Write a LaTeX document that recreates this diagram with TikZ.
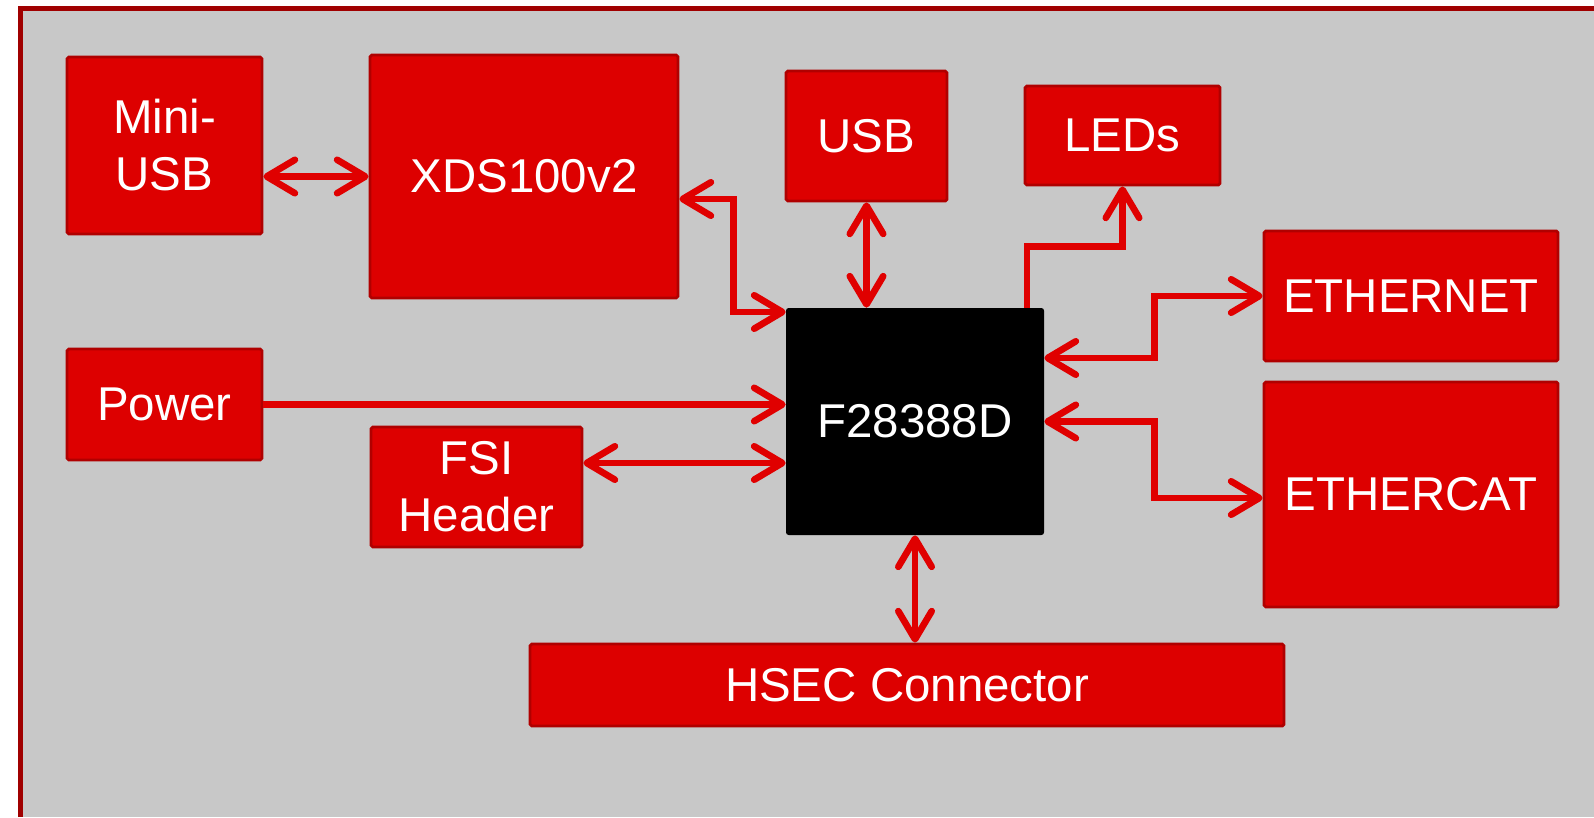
\documentclass[tikz,border=0pt]{standalone}
\usepackage{fontspec}
\setmainfont{Liberation Sans}
\usetikzlibrary{arrows.meta}

\definecolor{boxred}{HTML}{DD0000}
\definecolor{edgered}{HTML}{B00000}
\definecolor{framered}{HTML}{A00000}
\definecolor{panelgray}{HTML}{C8C8C8}
\definecolor{linkred}{HTML}{E00000}

\begin{document}
\begin{tikzpicture}[
  every node/.style={font=\fontsize{27}{32.4}\selectfont, text=white, align=center},
  block/.style={draw=edgered, fill=boxred, line width=1.6pt, rounded corners=1pt, inner sep=0pt},
  chip/.style={fill=black, rounded corners=1.5pt, inner sep=0pt},
  link/.style={draw=linkred, line width=3.8pt},
  >={Straight Barb[length=16pt,width=19pt,round]}
]
  \useasboundingbox (0,0) rectangle (31.88,-16.34);

  % Frame
  \fill[panelgray] (0.36,-0.12) rectangle (31.88,-16.34);
  \draw[framered, line width=2.8pt] (0.41,-16.34) -- (0.41,-0.17) -- (31.88,-0.17);

  % Blocks
  \node[block, minimum width=3.90cm, minimum height=3.54cm] (minusb) at (3.29,-2.91) {Mini-\\USB};
  \node[block, minimum width=6.16cm, minimum height=4.86cm] (xds) at (10.48,-3.53) {XDS100v2};
  \node[block, minimum width=3.22cm, minimum height=2.60cm] (usb) at (17.33,-2.72) {USB};
  \node[block, minimum width=3.90cm, minimum height=1.98cm] (leds) at (22.45,-2.71) {LEDs};
  \node[block, minimum width=3.90cm, minimum height=2.22cm] (power) at (3.29,-8.09) {Power};
  \node[block, minimum width=4.22cm, minimum height=2.40cm] (fsi) at (9.53,-9.74) {FSI\\Header};
  \node[block, minimum width=15.08cm, minimum height=1.64cm] (hsec) at (18.14,-13.70) {HSEC Connector};
  \node[block, minimum width=5.88cm, minimum height=2.60cm] (eth) at (28.22,-5.92) {ETHERNET};
  \node[block, minimum width=5.88cm, minimum height=4.50cm] (ecat) at (28.22,-9.89) {ETHERCAT};

  % MCU
  \node[chip, minimum width=5.16cm, minimum height=4.54cm] (mcu) at (18.30,-8.43) {F28388D};

  % Connectors
  \coordinate (xdsport) at ([yshift=-0.45cm]xds.east);
  \coordinate (fsiport) at ([yshift=0.48cm]fsi.east);
  \coordinate (ledport) at ([xshift=2.24cm]mcu.north);
  \coordinate (ethport) at ([yshift=1.27cm]mcu.east);

  \draw[link, <->] (minusb.east |- xds.west) -- (xds.west);
  \draw[link, <->] (xdsport) -- ++(1.08,0) |- ([yshift=2.19cm]mcu.west);
  \draw[link, <->] (usb.south) -- (usb.south |- mcu.north);
  \draw[link, ->] (ledport) -- ++(0,1.22) -| (leds.south);
  \draw[link, ->] (power.east) -- (power.east -| mcu.west);
  \draw[link, <->] (fsiport) -- (fsiport -| mcu.west);
  \draw[link, <->] (ethport) -- ++(2.2,0) |- (eth.west);
  \draw[link, <->] (mcu.east) -- ++(2.2,0) |- ([yshift=-0.07cm]ecat.west);
  \draw[link, <->] (mcu.south) -- (mcu.south |- hsec.north);
\end{tikzpicture}
\end{document}
